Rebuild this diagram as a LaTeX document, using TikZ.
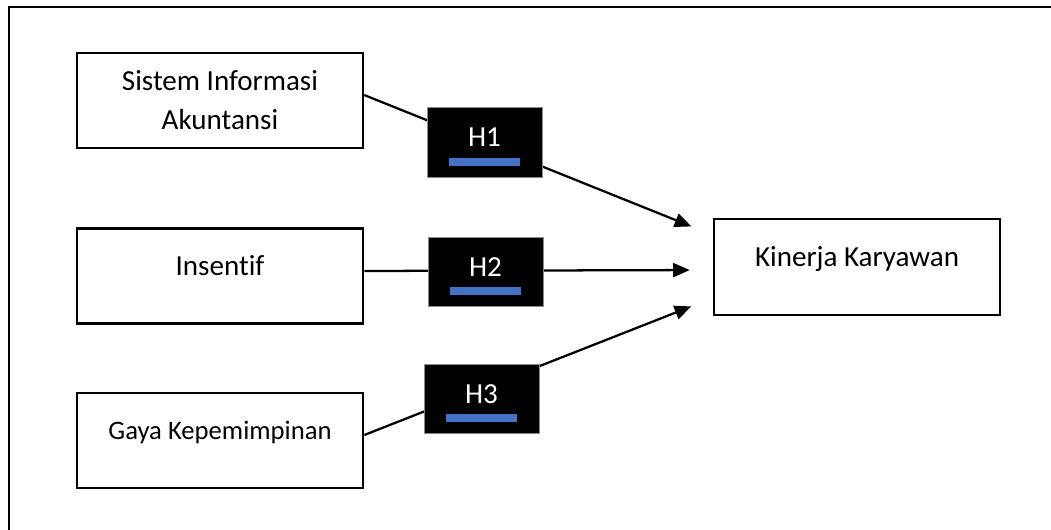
\documentclass[tikz,border=0pt]{standalone}
\usepackage{fontspec}
\setmainfont{Carlito}[Ligatures=NoCommon]
\usetikzlibrary{arrows.meta,positioning}
\definecolor{hypBlue}{HTML}{4472C4}
\definecolor{hypEdge}{HTML}{8C8C8C}
\tikzset{
  % Variable boxes: plain white rectangles.
  kfig/var/.style={
    draw=black, fill=white, line width=1.9pt, align=center,
    minimum width=214.5pt, minimum height=71.25pt, inner sep=0pt,
    font=\fontsize{21.8}{29.25}\selectfont
  },
  % Single line variable, text sits high in the box.
  kfig/one/.style={
    kfig/var, text height=13.5pt, text depth=14.7pt
  },
  % Hypothesis tag laid over its path, with the blue bar under the label.
  kfig/hyp/.style={
    draw=hypEdge, fill=black, line width=0.75pt, inner sep=0pt,
    minimum width=86.25pt, minimum height=52pt, text=white,
    font=\fontsize{21.8}{26}\selectfont, text height=13.5pt, text depth=6.75pt,
    path picture={\fill[hypBlue]
      ([shift={(-26.6pt,-11.6pt)}]path picture bounding box.center)
      rectangle ([shift={(26.6pt,-17.6pt)}]path picture bounding box.center);}
  },
  kfig/arrow/.style={
    -{Triangle[length=12.5pt,width=10.5pt]}, line width=1.7pt, shorten >=17.25pt
  },
}

\begin{document}
\begin{tikzpicture}[x=0.75pt, y=-0.75pt]
  \useasboundingbox (0,0) rectangle (1051,530);
  \clip (0,0) rectangle (1051,530);
  \draw[line width=1.7pt] (9,7) rectangle (1080,560);

  \node[kfig/var] (sia) at (220,100.5) {Sistem Informasi\\Akuntansi};
  \node[kfig/one] (ins) at (220,276) {Insentif};
  \node[kfig/one, font=\fontsize{20}{24}\selectfont] (gaya) at (220,440.5) {Gaya Kepemimpinan};
  \node[kfig/one, minimum height=72pt] (kin) at (857,267) {Kinerja Karyawan};

  \draw[kfig/arrow] ([yshift=4.1pt]sia.east) -- ([yshift=24pt]kin.west);
  \draw[kfig/arrow] ([yshift=3.75pt]ins.east) -- ([yshift=-2.25pt]kin.west);
  \draw[kfig/arrow] ([yshift=4.1pt]gaya.east) -- ([yshift=-23.25pt]kin.west);

  \foreach \n/\x/\y in {1/484.5/142.5, 2/485.5/272, 3/481.5/399}{
    \node[kfig/hyp] (h\n) at (\x,\y) {H\n};}
\end{tikzpicture}
\end{document}
